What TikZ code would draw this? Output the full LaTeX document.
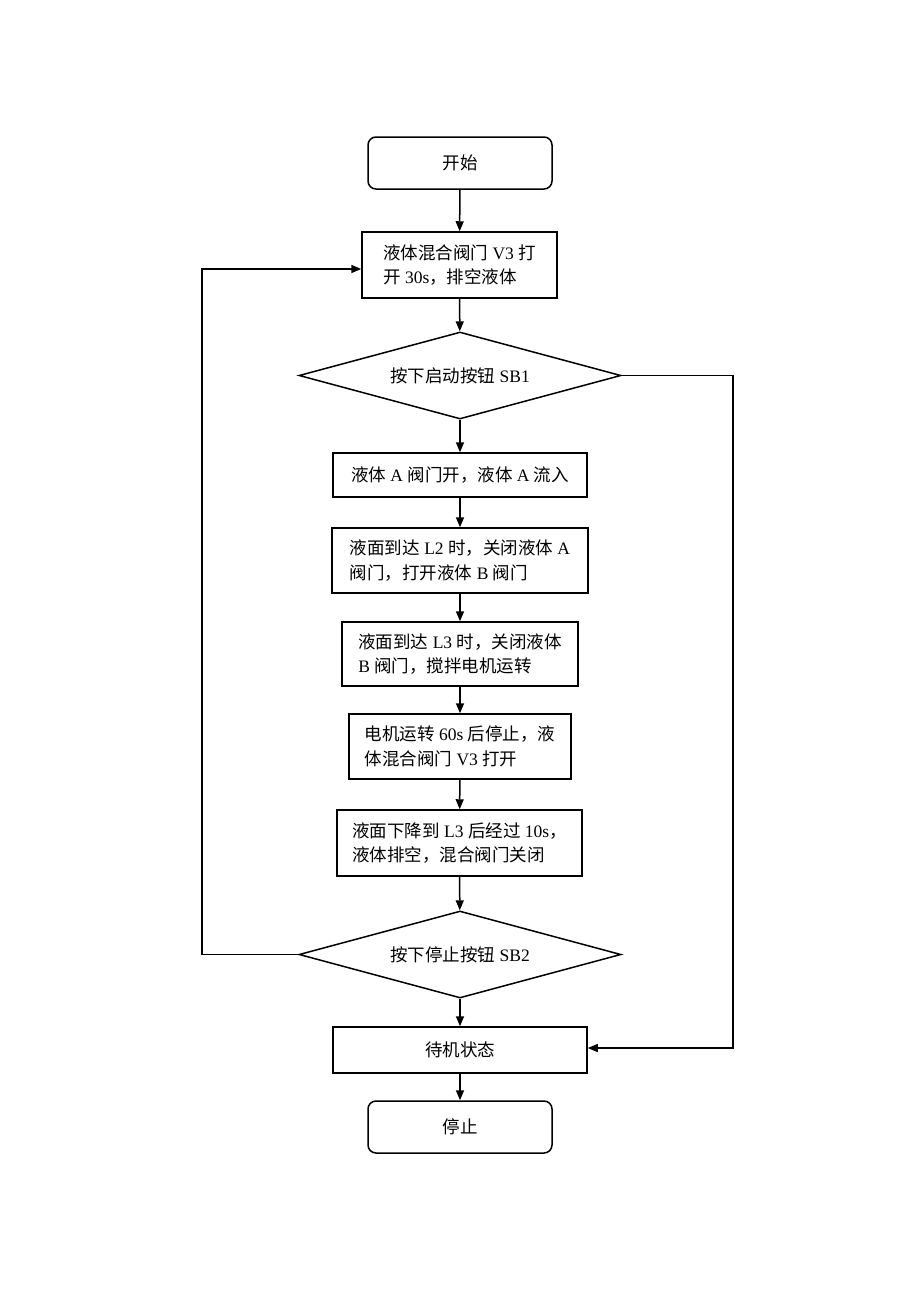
\documentclass[tikz,border=0pt]{standalone}
\usepackage{fontspec}
\setmainfont{Liberation Serif}
\newfontfamily\cjk{Noto Sans CJK SC}
\newcommand{\C}[1]{{\cjk #1}}
\usetikzlibrary{shapes.geometric,arrows.meta}
\begin{document}
\begin{tikzpicture}[x=1pt,y=-1pt,
  every node/.style={font=\fontsize{17.5}{24.5}\selectfont, line width=1.5pt, inner sep=0pt},
  term/.style={draw, rounded corners=8pt, minimum width=184pt, minimum height=52pt},
  proc/.style={draw, align=left},
  dec/.style={draw, diamond, aspect=3.7, minimum width=322pt, minimum height=87pt},
  conn/.style={line width=1.5pt, -{Triangle[length=10pt,width=8pt]}}]
\useasboundingbox (0,0) rectangle (920,1302);
\node[term] (start) at (460,163) {\C{开始}};
\node[proc, minimum width=195pt, minimum height=66pt] (b1) at (459.5,265) {\C{液体混合阀门} V3 \C{打}\\\C{开} 30s\C{，排空液体}};
\node[dec] (d1) at (460,375.5) {\C{按下启动按钮} SB1};
\node[proc, minimum width=254pt, minimum height=44pt] (b2) at (460,475) {\C{液体} A \C{阀门开，液体} A \C{流入}};
\node[proc, minimum width=256pt, minimum height=65pt] (b3) at (460,560.5) {\C{液面到达} L2 \C{时，关闭液体} A\\\C{阀门，打开液体} B \C{阀门}};
\node[proc, minimum width=236pt, minimum height=64pt] (b4) at (460,654) {\C{液面到达} L3 \C{时，关闭液体}\\B \C{阀门，搅拌电机运转}};
\node[proc, minimum width=222pt, minimum height=65pt] (b5) at (460,746.5) {\C{电机运转} 60s \C{后停止，液}\\\C{体混合阀门} V3 \C{打开}};
\node[proc, minimum width=245pt, minimum height=66pt] (b6) at (459.5,843) {\C{液面下降到} L3 \C{后经过} 10s\C{，}\\\C{液体排空，混合阀门关闭}};
\node[dec] (d2) at (460,954.5) {\C{按下停止按钮} SB2};
\node[proc, minimum width=254pt, minimum height=46pt] (b7) at (460,1050) {\C{待机状态}};
\node[term] (stop) at (460,1127) {\C{停止}};
\coordinate (lt) at (202,954.5);
\coordinate (lb) at (202,269);
\coordinate (rt) at (733,375.5);
\coordinate (rb) at (733,1048);
\draw[conn] (start) -- (b1);
\draw[conn] (b1) -- (d1);
\draw[conn] (d1) -- (b2);
\draw[conn] (b2) -- (b3);
\draw[conn] (b3) -- (b4);
\draw[conn] (b4) -- (b5);
\draw[conn] (b5) -- (b6);
\draw[conn] (b6) -- (d2);
\draw[conn] (d2) -- (b7);
\draw[conn] (b7) -- (stop);
\draw[conn] (d2.west) -- (lt) -- (lb) -- (b1.west |- lb);
\draw[conn] (d1.east) -- (rt) -- (rb) -- (b7.east |- rb);
\end{tikzpicture}
\end{document}
